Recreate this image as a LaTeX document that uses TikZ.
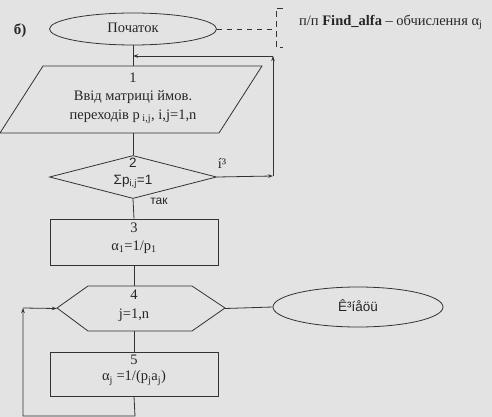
\documentclass[tikz,border=0pt]{standalone}
\usepackage{fontspec}
\setmainfont{Liberation Serif}
\newfontfamily\arialf{Liberation Sans}
\usetikzlibrary{shapes.geometric,arrows.meta}
\begin{document}
\begin{tikzpicture}[x=1pt,y=-1pt,
  line/.style={draw=black!80, line width=0.8pt},
  arr/.style={line, -{Stealth[length=5pt,width=3.5pt]}},
  lbl/.style={font=\fontsize{14.5}{17}\selectfont, inner sep=0pt, text=black!85},
  slbl/.style={font=\arialf\fontsize{13.5}{16}\selectfont, inner sep=0pt, text=black!85},
  term/.style={ellipse, line, inner sep=0pt},
  procbox/.style={rectangle, line, minimum width=168pt, inner sep=0pt},
  frame/.style={rectangle, draw=none, inner sep=0pt}]
% page
\fill[black!11] (0,0) rectangle (492,417);
\useasboundingbox (0,0) rectangle (492,417);

\node[lbl, font=\bfseries\fontsize{15}{17}\selectfont] (lab) at (20,31) {б)};

% terminals
\node[term, minimum width=167pt, minimum height=32pt] (start) at (133,29) {};
\node[lbl] at (133,28) {Початок};
\node[term, minimum width=170pt, minimum height=40pt] (stop) at (358,307) {};
\node[slbl] at (358,306) {Ê³íåöü};

% comment bracket
\coordinate (cm) at (276,29);
\draw[line, dash pattern=on 5pt off 5pt] (start.east) -- (cm);
\draw[line, dash pattern=on 6pt off 4pt] (283,8) -- (276,8) -- (276,47) -- (283,47);
\node[lbl, anchor=west] at (299,22) {п/п \textbf{Find\_alfa} -- обчислення α\textsubscript{j}};

% block 1: input
\draw[line] (43,66) -- (262,66) -- (219,133) -- (0,133) -- cycle;
\node[frame, minimum width=170pt, minimum height=67pt] (io) at (133,99.5) {};
\node[lbl] at (133,78) {1};
\node[lbl] at (133,97) {Ввід матриці ймов.};
\node[lbl] at (133,117) {переходів p\textsubscript{ i,j}, i,j=1,n};

% block 2: condition
\node[diamond, line, aspect=3.9, minimum width=167pt, minimum height=43pt, inner sep=0pt] (d2) at (133,177) {};
\node[slbl] at (133,163) {2};
\node[slbl] at (133,182) {Σp\textsubscript{i,j}=1};
\node[slbl, font=\arialf\fontsize{12}{14}\selectfont] at (159,201) {так};
\node[lbl] at (222,163) {í³};

% block 3
\node[procbox, minimum height=46pt] (b3) at (134,242) {};
\node[lbl] at (134,228) {3};
\node[lbl] at (134,247) {α\textsubscript{1}=1/p\textsubscript{1}};

% block 4: loop header
\draw[line] (57,308) -- (88,286) -- (192,286) -- (225,308) -- (192,331) -- (88,331) -- cycle;
\node[frame, minimum width=168pt, minimum height=45pt] (h4) at (141,308.5) {};
\node[lbl] at (134,295) {4};
\node[lbl] at (134,315) {j=1,n};

% block 5
\node[procbox, minimum height=44pt] (b5) at (134,374) {};
\node[lbl] at (134,360) {5};
\node[lbl] at (134,378) {α\textsubscript{j} =1/(p\textsubscript{j}a\textsubscript{j})};

% connectors
\coordinate (jn) at (133,56);
\coordinate (rt) at (273,56);
\coordinate (rb) at (273,176);
\coordinate (lb1) at (135,416);
\coordinate (lb2) at (23,416);
\coordinate (lb3) at (23,308);

\draw[line] (start.south) -- (io.north);
\draw[arr] (d2.east) -- (rb);
\draw[arr] (rb) -- (rt);
\draw[arr] (rt) -- (jn);
\draw[line] (io.south) -- (d2.north);
\draw[line] (d2.south) -- (b3.north);
\draw[line] (b3.south) -- (b3.south |- h4.north);
\draw[line] (b5.north |- h4.south) -- (b5.north);
\draw[arr] (b5.south) -- (lb1) -- (lb2) -- (lb3);
\draw[arr] (lb3) -- (h4.west);
\draw[line] (h4.east) -- (stop.west);
\end{tikzpicture}
\end{document}
